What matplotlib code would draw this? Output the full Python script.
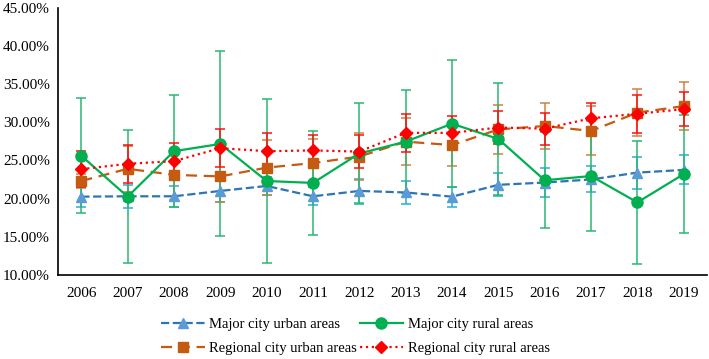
import matplotlib
matplotlib.use('Agg')
import matplotlib.pyplot as plt
from matplotlib.lines import Line2D
from matplotlib.ticker import PercentFormatter

plt.rcParams['font.family'] = ['Liberation Serif', 'DejaVu Serif']

# years on the x axis
years = ['2006', '2007', '2008', '2009', '2010', '2011', '2012',
         '2013', '2014', '2015', '2016', '2017', '2018', '2019']

# mean values (%)
major_urban = [20.25, 20.3, 20.3, 21.0, 21.65, 20.3, 21.0,
               20.8, 20.25, 21.8, 22.1, 22.5, 23.4, 23.75]
major_rural = [25.6, 20.25, 26.2, 27.15, 22.3, 22.05, 25.9,
               27.45, 29.8, 27.8, 22.4, 22.95, 19.5, 23.2]
regional_urban = [22.3, 23.9, 23.1, 22.9, 24.05, 24.65, 25.5,
                  27.45, 27.0, 29.05, 29.5, 28.85, 31.25, 32.1]
regional_rural = [23.85, 24.55, 24.9, 26.6, 26.2, 26.3, 26.15,
                  28.6, 28.6, 29.3, 29.15, 30.5, 31.1, 31.7]

# error bar half-widths (%)
major_urban_err = [1.3, 1.5, 1.35, 1.5, 1.15, 1.2, 1.6,
                   1.5, 1.3, 1.5, 1.85, 1.7, 2.1, 1.9]
major_rural_err = [7.5, 8.7, 7.35, 12.1, 10.7, 6.8, 6.6,
                   6.75, 8.3, 7.3, 6.3, 7.2, 8.1, 7.7]
regional_urban_err = [0.9, 3.0, 3.3, 3.4, 3.6, 3.1, 3.05,
                      3.05, 2.8, 3.2, 3.05, 3.2, 3.1, 3.1]
regional_rural_err = [2.4, 2.5, 2.4, 2.5, 2.4, 2.0, 2.2,
                      2.5, 2.25, 2.2, 2.1, 2.0, 2.5, 2.2]

labels = ['Major city urban areas', 'Major city rural areas',
          'Regional city urban areas', 'Regional city rural areas']

# style per series: line colour, line style, marker, marker size, marker colour, error bar colour
styles = [
    dict(color='#2E75B6', ls='--', marker='^', ms=7.5, mc='#5B9BD5', ec='#2AAFD0'),
    dict(color='#00B050', ls='-', marker='o', ms=8, mc='#00B050', ec='#2BB673'),
    dict(color='#C55A11', ls=(0, (5, 3)), marker='s', ms=7, mc='#C55A11', ec='#D2823E'),
    dict(color='#FF0000', ls=':', marker='D', ms=6.5, mc='#FF0000', ec='#FF1010'),
]
series = [(major_urban, major_urban_err), (major_rural, major_rural_err),
          (regional_urban, regional_urban_err), (regional_rural, regional_rural_err)]

x = list(range(len(years)))

fig = plt.figure(figsize=(7.09, 3.59), dpi=100)
ax = fig.add_axes([0.082, 0.234, 0.915, 0.745])

handles = []
for order, (vals, err) in zip([0, 2, 1, 3], [series[0], series[2], series[1], series[3]]):
    st = styles[order]
    ax.errorbar(x, vals, yerr=err, color=st['color'], ls=st['ls'], lw=1.6,
                marker=st['marker'], ms=st['ms'], mfc=st['mc'], mec=st['mc'],
                ecolor=st['ec'], elinewidth=1.1, capsize=3.5, capthick=1.1)

for st in styles:
    handles.append(Line2D([], [], color=st['color'], ls=st['ls'], lw=1.6,
                          marker=st['marker'], ms=st['ms'], mfc=st['mc'], mec=st['mc']))

ax.set_xlim(-0.5, len(years) - 0.5)
ax.set_ylim(10, 45)
ax.set_yticks([10, 15, 20, 25, 30, 35, 40, 45])
ax.yaxis.set_major_formatter(PercentFormatter(decimals=2))
ax.set_xticks(x)
ax.set_xticklabels(years)
ax.tick_params(axis='both', length=0, labelsize=11, pad=9)
ax.tick_params(axis='y', pad=6)

for s in ['top', 'right']:
    ax.spines[s].set_visible(False)
ax.spines['left'].set_linewidth(1.2)
ax.spines['bottom'].set_linewidth(1.2)

# legend: fill column-wise so rows read urban/rural pairs
ax.legend([handles[0], handles[2], handles[1], handles[3]],
          [labels[0], labels[2], labels[1], labels[3]],
          ncol=2, loc='upper center', bbox_to_anchor=(0.458, -0.112), frameon=False,
          fontsize=10.5, handlelength=3.0, columnspacing=0.2, handletextpad=0.3,
          labelspacing=0.75)

fig.savefig('out.png', dpi=100)
